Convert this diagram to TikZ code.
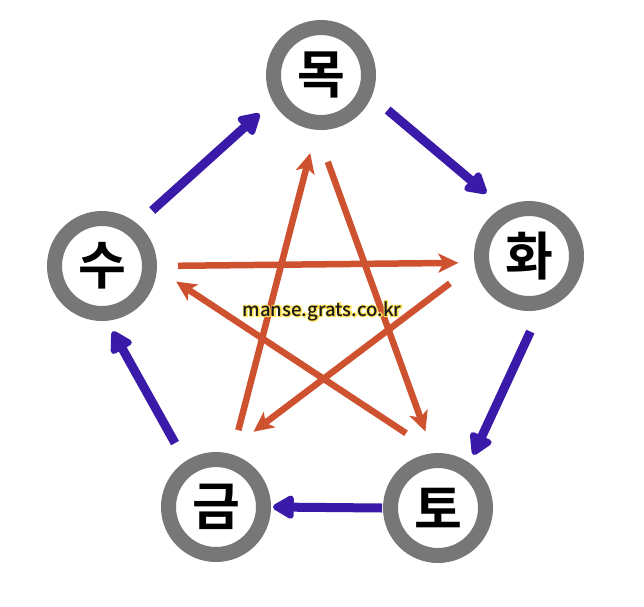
\documentclass[tikz,border=0pt]{standalone}
\usepackage{fontspec}
\usepackage{tikz}
\usetikzlibrary{arrows.meta}
\newfontfamily\krfont{Noto Sans CJK KR Bold}
\newfontfamily\urlfont{Noto Sans CJK KR Medium}
\newfontfamily\halofont{Noto Sans CJK KR Medium}[FakeBold=12]
\definecolor{ringgray}{HTML}{777777}
\definecolor{genblue}{HTML}{3A1AA8}
\definecolor{ctrlred}{HTML}{CF5230}
\definecolor{halo}{HTML}{FFE45C}
\definecolor{urlink}{HTML}{1A1A1A}
\newcommand\glowtext[1]{\makebox[0pt][l]{\halofont\color{halo}#1}#1}

\begin{document}
\begin{tikzpicture}[x=1pt, y=1pt,
  element/.style={circle, draw=ringgray, line width=15pt, fill=white,
    minimum size=95pt, inner sep=0pt, font=\krfont\fontsize{52}{52}\selectfont},
  gen/.style={-{Triangle[length=24pt, width=26pt, round]}, line width=9pt, genblue},
  ctrl/.style={-{Stealth[length=20pt, width=19pt, inset=5pt]}, line width=6.5pt, ctrlred},
  site/.style={text=urlink, font=\urlfont\fontsize{18.6}{19}\selectfont},
]
\useasboundingbox (0,0) rectangle (644,-606);
\node[element] (wood)  at (321,-75)  {목};
\node[element] (fire)  at (529,-256) {화};
\node[element] (earth) at (438,-508) {토};
\node[element] (metal) at (216,-507) {금};
\node[element] (water) at (102,-266) {수};
\draw[gen, shorten <=20pt, shorten >=18pt] (water.50) -- (wood.209);
\draw[gen, shorten <=21pt, shorten >=22pt] (wood.-23) -- (fire.118);
\draw[gen, shorten <=24pt, shorten >=9pt] (fire.-78) -- (earth.55);
\draw[gen, shorten <=1pt, shorten >=2pt] (earth.west) -- (metal.east);
\draw[gen, shorten <=21pt, shorten >=12pt] (metal.124) -- (water.-85);
\draw[ctrl, shorten <=21pt, shorten >=16pt] (water.0) -- (fire.187);
\draw[ctrl, shorten <=31pt, shorten >=35pt] (fire.189) -- (metal.80);
\draw[ctrl, shorten <=25pt, shorten >=24pt] (metal.73) -- (wood.-95);
\draw[ctrl, shorten <=34pt, shorten >=23pt] (wood.-95) -- (earth.95);
\draw[ctrl, shorten <=36pt, shorten >=23pt] (earth.92) -- (water.-3);
\node[site] (url) at (322,-311) {\glowtext{manse.grats.co.kr}};
\end{tikzpicture}
\end{document}
